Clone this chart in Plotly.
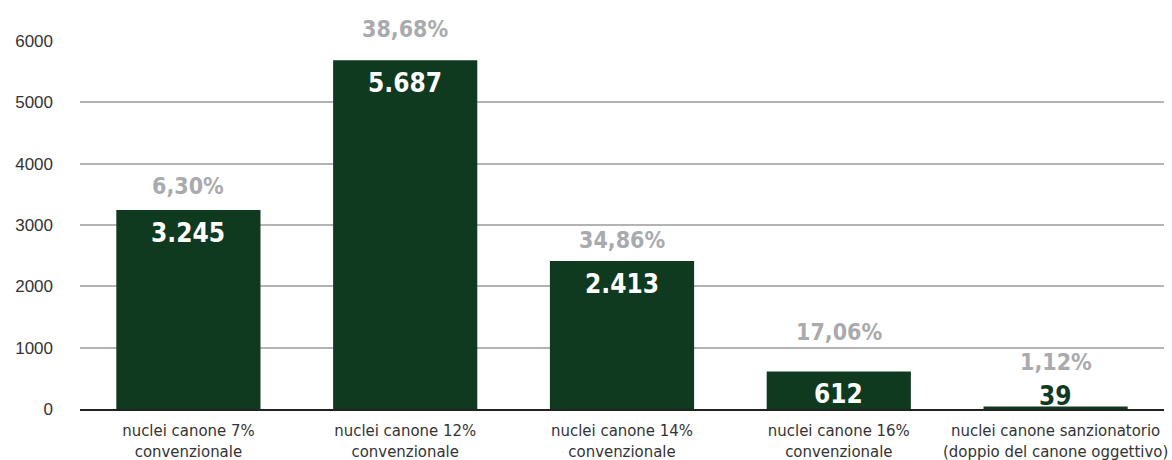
import plotly.graph_objects as go

categories = [
    "nuclei canone 7%<br>convenzionale",
    "nuclei canone 12%<br>convenzionale",
    "nuclei canone 14%<br>convenzionale",
    "nuclei canone 16%<br>convenzionale",
    "nuclei canone sanzionatorio<br>(doppio del canone oggettivo)",
]
values = [3245, 5687, 2413, 612, 39]
value_labels = ["3.245", "5.687", "2.413", "612", "39"]
percent_labels = ["6,30%", "38,68%", "34,86%", "17,06%", "1,12%"]
tick_values = [0, 1000, 2000, 3000, 4000, 5000, 6000]

GREEN = "#0f3a1f"
GRAY = "#a9aaae"
NARROW = "DejaVu Sans Condensed, Liberation Sans Narrow, sans-serif"

fig = go.Figure()
fig.add_trace(go.Bar(
    x=categories,
    y=values,
    marker=dict(color=GREEN, line=dict(width=0)),
    hoverinfo="skip",
))

# value labels: inside the top of tall bars, just above very short ones
for cat, val, lab in zip(categories, values, value_labels):
    tall = val > 300
    fig.add_annotation(
        x=cat, y=val, text=lab, showarrow=False,
        yanchor="middle", yshift=-23 if tall else 11,
        font=dict(family=NARROW, size=26, color="white" if tall else GREEN, weight="bold"),
    )

# share labels floating above each bar
shifts = [24, 31, 21, 39, 45]
for cat, val, pct, dy in zip(categories, values, percent_labels, shifts):
    fig.add_annotation(
        x=cat, y=val, text=pct, showarrow=False,
        yanchor="middle", yshift=dy,
        font=dict(family=NARROW, size=23, color=GRAY, weight="bold"),
    )

fig.update_layout(
    width=1172, height=460,
    margin=dict(l=80, r=8, t=41, b=51),
    plot_bgcolor="white", paper_bgcolor="white",
    bargap=0.335,
    showlegend=False,
    xaxis=dict(
        showline=True, linecolor="#222222", linewidth=1.5,
        tickfont=dict(family=NARROW, size=16.6, color="#333333"),
        ticks="", tickangle=0, automargin=False,
        ticklabelstandoff=5,
    ),
    yaxis=dict(
        range=[0, 6000], tickvals=tick_values,
        showgrid=True, gridcolor="#b3b3b5", gridwidth=1.5,
        zeroline=False, automargin=False,
        tickfont=dict(family="Liberation Sans, Arial, sans-serif", size=17, color="#333333"),
        ticklabelstandoff=26,
    ),
)

fig.write_html("out.html")
